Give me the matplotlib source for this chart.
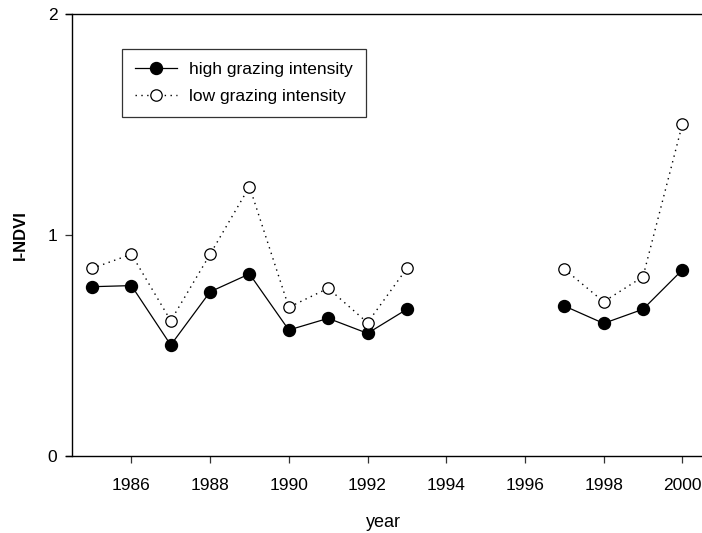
import numpy as np
import matplotlib
matplotlib.use("Agg")
import matplotlib.pyplot as plt

plt.rcParams['font.family'] = ['Liberation Sans', 'DejaVu Sans']

# I-NDVI per year; no data for 1994-1996
years = [1985, 1986, 1987, 1988, 1989, 1990, 1991, 1992, 1993,
         1994, 1995, 1996, 1997, 1998, 1999, 2000]
high_grazing = [0.766, 0.771, 0.502, 0.743, 0.824, 0.570, 0.623, 0.555, 0.664,
                np.nan, np.nan, np.nan, 0.679, 0.600, 0.664, 0.842]
low_grazing = [0.849, 0.913, 0.612, 0.913, 1.219, 0.673, 0.759, 0.603, 0.849,
               np.nan, np.nan, np.nan, 0.846, 0.698, 0.811, 1.501]
xticks = [1986, 1988, 1990, 1992, 1994, 1996, 1998, 2000]
yticks = [0, 1, 2]

fig = plt.figure(figsize=(7.02, 5.33), dpi=100)
ax = fig.add_axes([0.0936, 0.1445, 0.9064, 0.8292])

ax.plot(years, high_grazing, '-', color='black', lw=0.9,
        marker='o', ms=8.6, mfc='black', mec='black',
        label='high grazing intensity')
ax.plot(years, low_grazing, color='black', lw=1.0, ls=(0, (1, 3.2)),
        marker='o', ms=8.2, mfc='white', mec='black', mew=0.9,
        label='low grazing intensity')

ax.set_xlim(1984.33, 2000.5)
ax.set_ylim(0, 2)
ax.set_xticks(xticks)
ax.set_yticks(yticks)

# left spine sits a little inside the frame, so top/bottom lines overhang it
ax.spines['left'].set_position(('data', 1984.5))
ax.spines['right'].set_visible(False)
for s in ['left', 'top', 'bottom']:
    ax.spines[s].set_linewidth(1.0)
    ax.spines[s].set_color('black')

ax.tick_params(axis='both', direction='out', length=4.8, width=0.9,
               labelsize=12.5, color='#333333')
ax.tick_params(axis='x', pad=11)
ax.tick_params(axis='y', pad=6)

ax.set_xlabel('year', fontsize=13, labelpad=15)
ax.set_ylabel('I-NDVI', fontsize=12, fontweight='bold', labelpad=14)

leg = ax.legend(loc='upper left', bbox_to_anchor=(0.0885, 0.921),
                frameon=True, fancybox=False, fontsize=12.5,
                handlelength=2.4, handletextpad=0.7, labelspacing=0.7,
                borderpad=0.75, borderaxespad=0)
leg.get_frame().set_edgecolor('black')
leg.get_frame().set_linewidth(0.9)

fig.savefig('out.png', dpi=100)
